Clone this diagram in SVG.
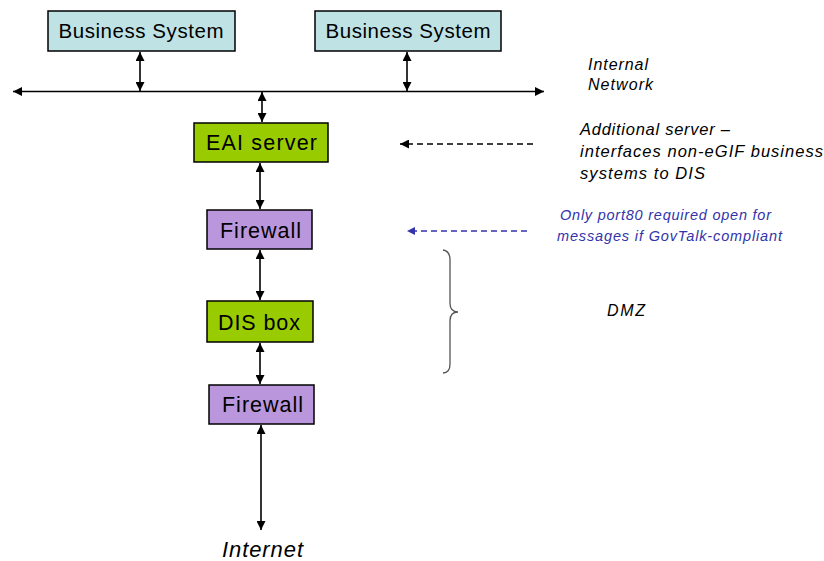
<svg xmlns="http://www.w3.org/2000/svg" width="824" height="561" viewBox="0 0 824 561">
<defs>
<marker id="ah" viewBox="0 0 10 10" refX="10" refY="5" markerWidth="9" markerHeight="9" markerUnits="userSpaceOnUse" orient="auto-start-reverse">
<path d="M0,0 L10,5 L0,10 z" fill="#000"/>
</marker>
<marker id="ahb" viewBox="0 0 10 10" refX="10" refY="5" markerWidth="8" markerHeight="8" markerUnits="userSpaceOnUse" orient="auto">
<path d="M0,0 L10,5 L0,10 z" fill="#3333aa"/>
</marker>
<style>
.box{stroke:#000;stroke-width:1.5}
.bs{fill:#bfe3e4}
.gr{fill:#99cc00}
.pu{fill:#ba97dc}
.lbl{font-family:"Liberation Sans",Arial,sans-serif;fill:#000;text-anchor:middle}
.note{font-family:"Liberation Sans",Arial,sans-serif;font-style:italic;fill:#000}
.blue{fill:#3333aa}
.con{stroke:#000;stroke-width:1.6;fill:none}
</style>
</defs>
<rect width="824" height="561" fill="#fff"/>
<g id="bs1"><rect class="box bs" x="48" y="11" width="187" height="40"/><text class="lbl" x="141" y="38" font-size="20.5" textLength="165">Business System</text></g>
<g id="bs2"><rect class="box bs" x="315" y="11" width="186" height="40"/><text class="lbl" x="408" y="38" font-size="20.5" textLength="165">Business System</text></g>
<g id="eai"><rect class="box gr" x="194" y="123" width="134" height="39"/><text class="lbl" x="261.5" y="149.5" font-size="21.5" textLength="111">EAI server</text></g>
<g id="fw1"><rect class="box pu" x="207" y="210" width="105" height="39"/><text class="lbl" x="260.5" y="238" font-size="21.5" textLength="81">Firewall</text></g>
<g id="dis"><rect class="box gr" x="207" y="301" width="106" height="41"/><text class="lbl" x="259" y="330" font-size="21.5" textLength="82">DIS box</text></g>
<g id="fw2"><rect class="box pu" x="209" y="385" width="105" height="39"/><text class="lbl" x="262.5" y="412" font-size="21.5" textLength="81">Firewall</text></g>
<g id="internet"><text class="note" x="222" y="557" font-size="22" textLength="81">Internet</text></g>
<g id="connectors">
<line class="con" x1="13" y1="91.5" x2="544" y2="91.5" marker-start="url(#ah)" marker-end="url(#ah)"/>
<line class="con" x1="140" y1="52" x2="140" y2="91" marker-start="url(#ah)" marker-end="url(#ah)"/>
<line class="con" x1="407" y1="52" x2="407" y2="91" marker-start="url(#ah)" marker-end="url(#ah)"/>
<line class="con" x1="262" y1="92" x2="262" y2="122" marker-start="url(#ah)" marker-end="url(#ah)"/>
<line class="con" x1="260" y1="163" x2="260" y2="209" marker-start="url(#ah)" marker-end="url(#ah)"/>
<line class="con" x1="260" y1="250" x2="260" y2="300" marker-start="url(#ah)" marker-end="url(#ah)"/>
<line class="con" x1="260" y1="343" x2="260" y2="384" marker-start="url(#ah)" marker-end="url(#ah)"/>
<line class="con" x1="261" y1="425" x2="261" y2="530" marker-start="url(#ah)" marker-end="url(#ah)"/>
<line x1="533" y1="144" x2="400" y2="144" stroke="#000" stroke-width="1.3" stroke-dasharray="6,4" marker-end="url(#ah)"/>
<line x1="527" y1="231" x2="407" y2="231" stroke="#3333aa" stroke-width="1.3" stroke-dasharray="6,4" marker-end="url(#ahb)"/>
<path d="M443,250 Q450,251 450,260 L450,303 Q450,312 458,312 Q450,312 450,321 L450,364 Q450,373 443,373" fill="none" stroke="#555" stroke-width="1.3"/>
</g>
<g id="notes">
<text class="note" x="588" y="70" font-size="16" textLength="60">Internal</text>
<text class="note" x="588" y="90" font-size="16" textLength="65">Network</text>
<text class="note" x="580" y="135" font-size="16.5" textLength="150">Additional server –</text>
<text class="note" x="580" y="157" font-size="16.5" textLength="243">interfaces non-eGIF business</text>
<text class="note" x="580" y="179" font-size="16.5" textLength="125">systems to  DIS</text>
<text class="note blue" x="560" y="220" font-size="14.5" textLength="211">Only port80 required open for</text>
<text class="note blue" x="557" y="241" font-size="14.5" textLength="225">messages if GovTalk-compliant</text>
<text class="note" x="607" y="316" font-size="16" textLength="38">DMZ</text>
</g>
</svg>
